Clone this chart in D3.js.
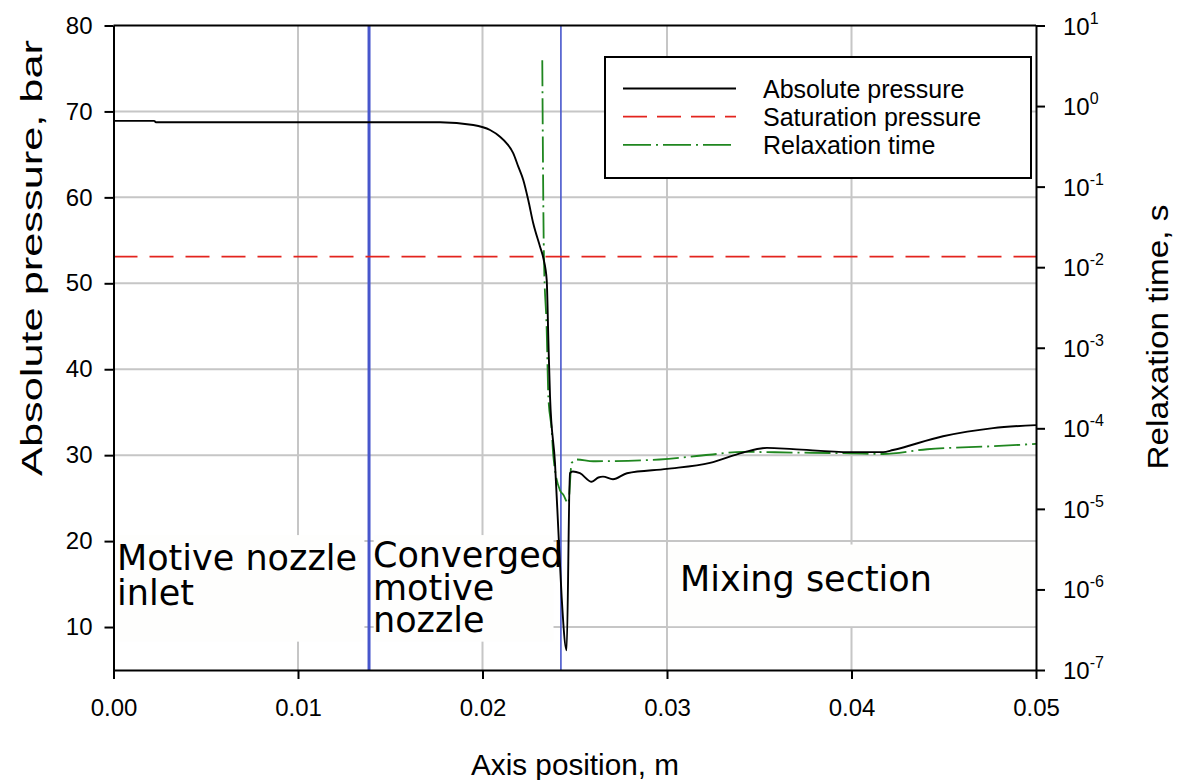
<!DOCTYPE html>
<html>
<head>
<meta charset="utf-8">
<script src="https://cdn.jsdelivr.net/npm/d3@7"></script>
<style>
  body { margin: 0; background: #fff; }
  svg { display: block; font-family: Arial, "Liberation Sans", sans-serif; }
</style>
</head>
<body>
<div id="chart"></div>
<script>
// Axis ticks
const xTicks = [0, 0.01, 0.02, 0.03, 0.04, 0.05]
const pTicks = [10, 20, 30, 40, 50, 60, 70, 80]
const tauExps = [-7, -6, -5, -4, -3, -2, -1, 0, 1]

// Absolute pressure (bar) along the axis (m)
const absPos = [0, 0.0022, 0.0023, 0.0100, 0.0177, 0.0195, 0.02041, 0.02095, 0.02131, 0.02167,
	0.02194, 0.02221, 0.02248, 0.02275, 0.02312, 0.02330, 0.02348, 0.02357, 0.02366, 0.02393,
	0.02411, 0.02429, 0.02456, 0.02474, 0.02490, 0.02528, 0.02592, 0.02628, 0.02653, 0.02707,
	0.02783, 0.0300, 0.03233, 0.03412, 0.03542, 0.03683, 0.03992, 0.04171, 0.04225, 0.04496,
	0.04767, 0.05]
const absP = [68.9, 68.9, 68.75, 68.75, 68.75, 68.42, 67.84, 67.06, 66.29, 65.13,
	63.57, 62.02, 59.69, 56.98, 54.26, 52.91, 50.39, 43.4, 36.8, 29.05,
	21.3, 13.5, 7.3, 27.9, 28.1, 27.9, 26.9, 27.4, 27.5, 27.2,
	27.9, 28.4, 29.1, 30.3, 30.85, 30.7, 30.35, 30.35, 30.6, 32.2,
	33.15, 33.5]

// Saturation pressure (bar)
const satPos = [0, 0.05]
const satP = [53.1, 53.1]

// Relaxation time (s)
const relaxPos = [0.02324, 0.02333, 0.02348, 0.02357, 0.02375, 0.02384, 0.0242, 0.02438, 0.02465,
	0.02483, 0.0251, 0.0260, 0.0296, 0.0323, 0.0341, 0.0368, 0.0399, 0.0417, 0.0441, 0.0477, 0.05]
const relaxTau = [3.7, 1.35e-2, 1.66e-3, 2.45e-4, 9.5e-5, 4.5e-5, 1.7e-5, 1.5e-5, 1.17e-5,
	3.7e-5, 4.1e-5, 3.9e-5, 4.1e-5, 4.7e-5, 5.1e-5, 5.0e-5, 4.9e-5, 4.8e-5, 5.5e-5, 6.0e-5, 6.4e-5]

// Section boundaries (m) and section names
const boundaries = [0.01385, 0.02425]
const boundaryWidths = [3, 1.6]
const sectionNames = [['Motive nozzle', 'inlet'], ['Converged', 'motive', 'nozzle'], ['Mixing section']]

// Legend entries
const legendNames = ['Absolute pressure', 'Saturation pressure', 'Relaxation time']

// Chart dimensions
const chartWidth = 1180
const chartHeight = 780
const plotLeft = 113.5, plotRight = 1036, plotTop = 25.5, plotBottom = 670

// Colors
const gridColor = '#c6c6c6'
const blue = '#4756cc'
const red = '#e3241e'
const green = '#1f861f'

// Scales
let scaleX = d3.scaleLinear().domain([0, 0.05]).range([plotLeft, plotRight])
let scaleP = d3.scaleLinear().domain([5, 80]).range([plotBottom, plotTop])
let scaleT = d3.scaleLog().domain([1e-7, 10]).range([plotBottom, plotTop])

let svg = d3.select('#chart')
	.append('svg')
	.attr('width', chartWidth)
	.attr('height', chartHeight)

// Grid
svg.append('g').selectAll('line')
	.data(xTicks.slice(1, -1))
	.enter().append('line')
	.attr('x1', d => scaleX(d)).attr('x2', d => scaleX(d))
	.attr('y1', plotTop).attr('y2', plotBottom)
	.style('stroke', gridColor).style('stroke-width', 2)
svg.append('g').selectAll('line')
	.data(pTicks.slice(0, -1))
	.enter().append('line')
	.attr('x1', plotLeft).attr('x2', plotRight)
	.attr('y1', d => scaleP(d)).attr('y2', d => scaleP(d))
	.style('stroke', gridColor).style('stroke-width', 2)

// White boxes behind section names
const boxes = [
	{x0: 0.00008, x1: 0.01360, p0: 20.7, p1: 8.3},
	{x0: 0.01410, x1: 0.02385, p0: 20.7, p1: 8.3},
	{x0: 0.03005, x1: 0.04990, p0: 19.6, p1: 10.1}
]
svg.append('g').selectAll('rect')
	.data(boxes)
	.enter().append('rect')
	.attr('x', d => scaleX(d.x0))
	.attr('y', d => scaleP(d.p0))
	.attr('width', d => scaleX(d.x1) - scaleX(d.x0))
	.attr('height', d => scaleP(d.p1) - scaleP(d.p0))
	.attr('fill', '#fefefd')

// Section names
const labelPos = [{x: 117, y: 570, dy: 35}, {x: 373, y: 567, dy: 32.5}, {x: 680, y: 591, dy: 33}]
sectionNames.forEach((lines, i) => {
	let t = svg.append('text')
		.attr('x', labelPos[i].x)
		.attr('y', labelPos[i].y)
		.style('font-family', '"DejaVu Sans", Verdana, sans-serif')
		.style('font-size', '35px')
		.attr('fill', '#000')
	lines.forEach((s, j) => {
		t.append('tspan').attr('x', labelPos[i].x).attr('dy', j === 0 ? 0 : labelPos[i].dy).text(s)
	})
})

// Boundary lines
svg.append('g').selectAll('line')
	.data(boundaries)
	.enter().append('line')
	.attr('x1', d => scaleX(d)).attr('x2', d => scaleX(d))
	.attr('y1', plotTop).attr('y2', plotBottom)
	.style('stroke', blue)
	.style('stroke-width', (d, i) => boundaryWidths[i])

// Saturation pressure
let lineP = d3.line().x(d => scaleX(d[0])).y(d => scaleP(d[1]))
svg.append('path')
	.attr('d', lineP(d3.zip(satPos, satP)))
	.attr('fill', 'none')
	.style('stroke', red).style('stroke-width', 1.8)
	.style('stroke-dasharray', '24 12')

// Relaxation time
let lineT = d3.line().x(d => scaleX(d[0])).y(d => scaleT(d[1])).curve(d3.curveMonotoneX)
svg.append('path')
	.attr('d', lineT(d3.zip(relaxPos, relaxTau)))
	.attr('fill', 'none')
	.style('stroke', green).style('stroke-width', 1.8)
	.style('stroke-dasharray', '26 5 2 5')

// Absolute pressure
let lineAbs = d3.line().x(d => scaleX(d[0])).y(d => scaleP(d[1])).curve(d3.curveMonotoneX)
svg.append('path')
	.attr('d', lineAbs(d3.zip(absPos, absP)))
	.attr('fill', 'none')
	.style('stroke', '#000').style('stroke-width', 1.9)
	.style('stroke-linejoin', 'round')

// Axes
let axisLeft = d3.axisLeft(scaleP).tickValues(pTicks).tickSize(9).tickSizeOuter(0).tickPadding(12)
let gLeft = svg.append('g').attr('transform', `translate(${plotLeft},0)`).call(axisLeft)
let axisBottom = d3.axisBottom(scaleX).tickValues(xTicks).tickFormat(d3.format('.2f'))
	.tickSize(9).tickSizeOuter(0).tickPadding(20)
let gBottom = svg.append('g').attr('transform', `translate(0,${plotBottom})`).call(axisBottom)
let axisRight = d3.axisRight(scaleT).tickValues(tauExps.map(e => Math.pow(10, e)))
	.tickFormat('').tickSize(9).tickSizeOuter(0)
let gRight = svg.append('g').attr('transform', `translate(${plotRight},0)`).call(axisRight)
svg.append('line')
	.attr('x1', plotLeft).attr('x2', plotRight).attr('y1', plotTop).attr('y2', plotTop)
	.style('stroke', '#000').style('stroke-width', 2)

;[gLeft, gBottom, gRight].forEach(g => {
	g.selectAll('path.domain').style('stroke', '#000').style('stroke-width', 2)
	g.selectAll('.tick line').style('stroke', '#000').style('stroke-width', 2)
	g.selectAll('.tick text')
		.style('font-family', 'Arial, "Liberation Sans", sans-serif')
		.style('font-size', '24px').attr('fill', '#000')
})

// Log tick labels
svg.append('g').selectAll('text')
	.data(tauExps)
	.enter().append('text')
	.attr('x', plotRight + 27)
	.attr('y', d => scaleT(Math.pow(10, d)) + 9)
	.style('font-size', '24px')
	.each(function (d) {
		let t = d3.select(this)
		t.append('tspan').text('10')
		t.append('tspan').attr('dy', -11).style('font-size', '16px').text(d)
	})

// Axis titles
svg.append('text')
	.attr('x', 575).attr('y', 775)
	.attr('text-anchor', 'middle')
	.style('font-size', '29px')
	.attr('textLength', 208).attr('lengthAdjust', 'spacingAndGlyphs')
	.text('Axis position, m')
svg.append('text')
	.attr('transform', 'translate(42,258) rotate(-90)')
	.attr('text-anchor', 'middle')
	.style('font-size', '30px')
	.attr('textLength', 436).attr('lengthAdjust', 'spacingAndGlyphs')
	.text('Absolute pressure, bar')
svg.append('text')
	.attr('transform', 'translate(1168,337) rotate(-90)')
	.attr('text-anchor', 'middle')
	.style('font-size', '30px')
	.attr('textLength', 265).attr('lengthAdjust', 'spacingAndGlyphs')
	.text('Relaxation time, s')

// Legend
let legend = svg.append('g')
legend.append('rect')
	.attr('x', 605).attr('y', 57).attr('width', 426).attr('height', 121)
	.attr('fill', '#fff').style('stroke', '#000').style('stroke-width', 2)
const legendStyles = [
	{color: '#000', dash: null},
	{color: red, dash: '24 10'},
	{color: green, dash: '28 5 2 5'}
]
legendNames.forEach((name, i) => {
	let ly = 88.5 + i * 28.2
	legend.append('line')
		.attr('x1', 623).attr('x2', 736).attr('y1', ly).attr('y2', ly)
		.style('stroke', legendStyles[i].color).style('stroke-width', 1.8)
		.style('stroke-dasharray', legendStyles[i].dash)
	legend.append('text')
		.attr('x', 763).attr('y', ly + 9)
		.style('font-size', '25px')
		.text(name)
})
</script>
</body>
</html>
